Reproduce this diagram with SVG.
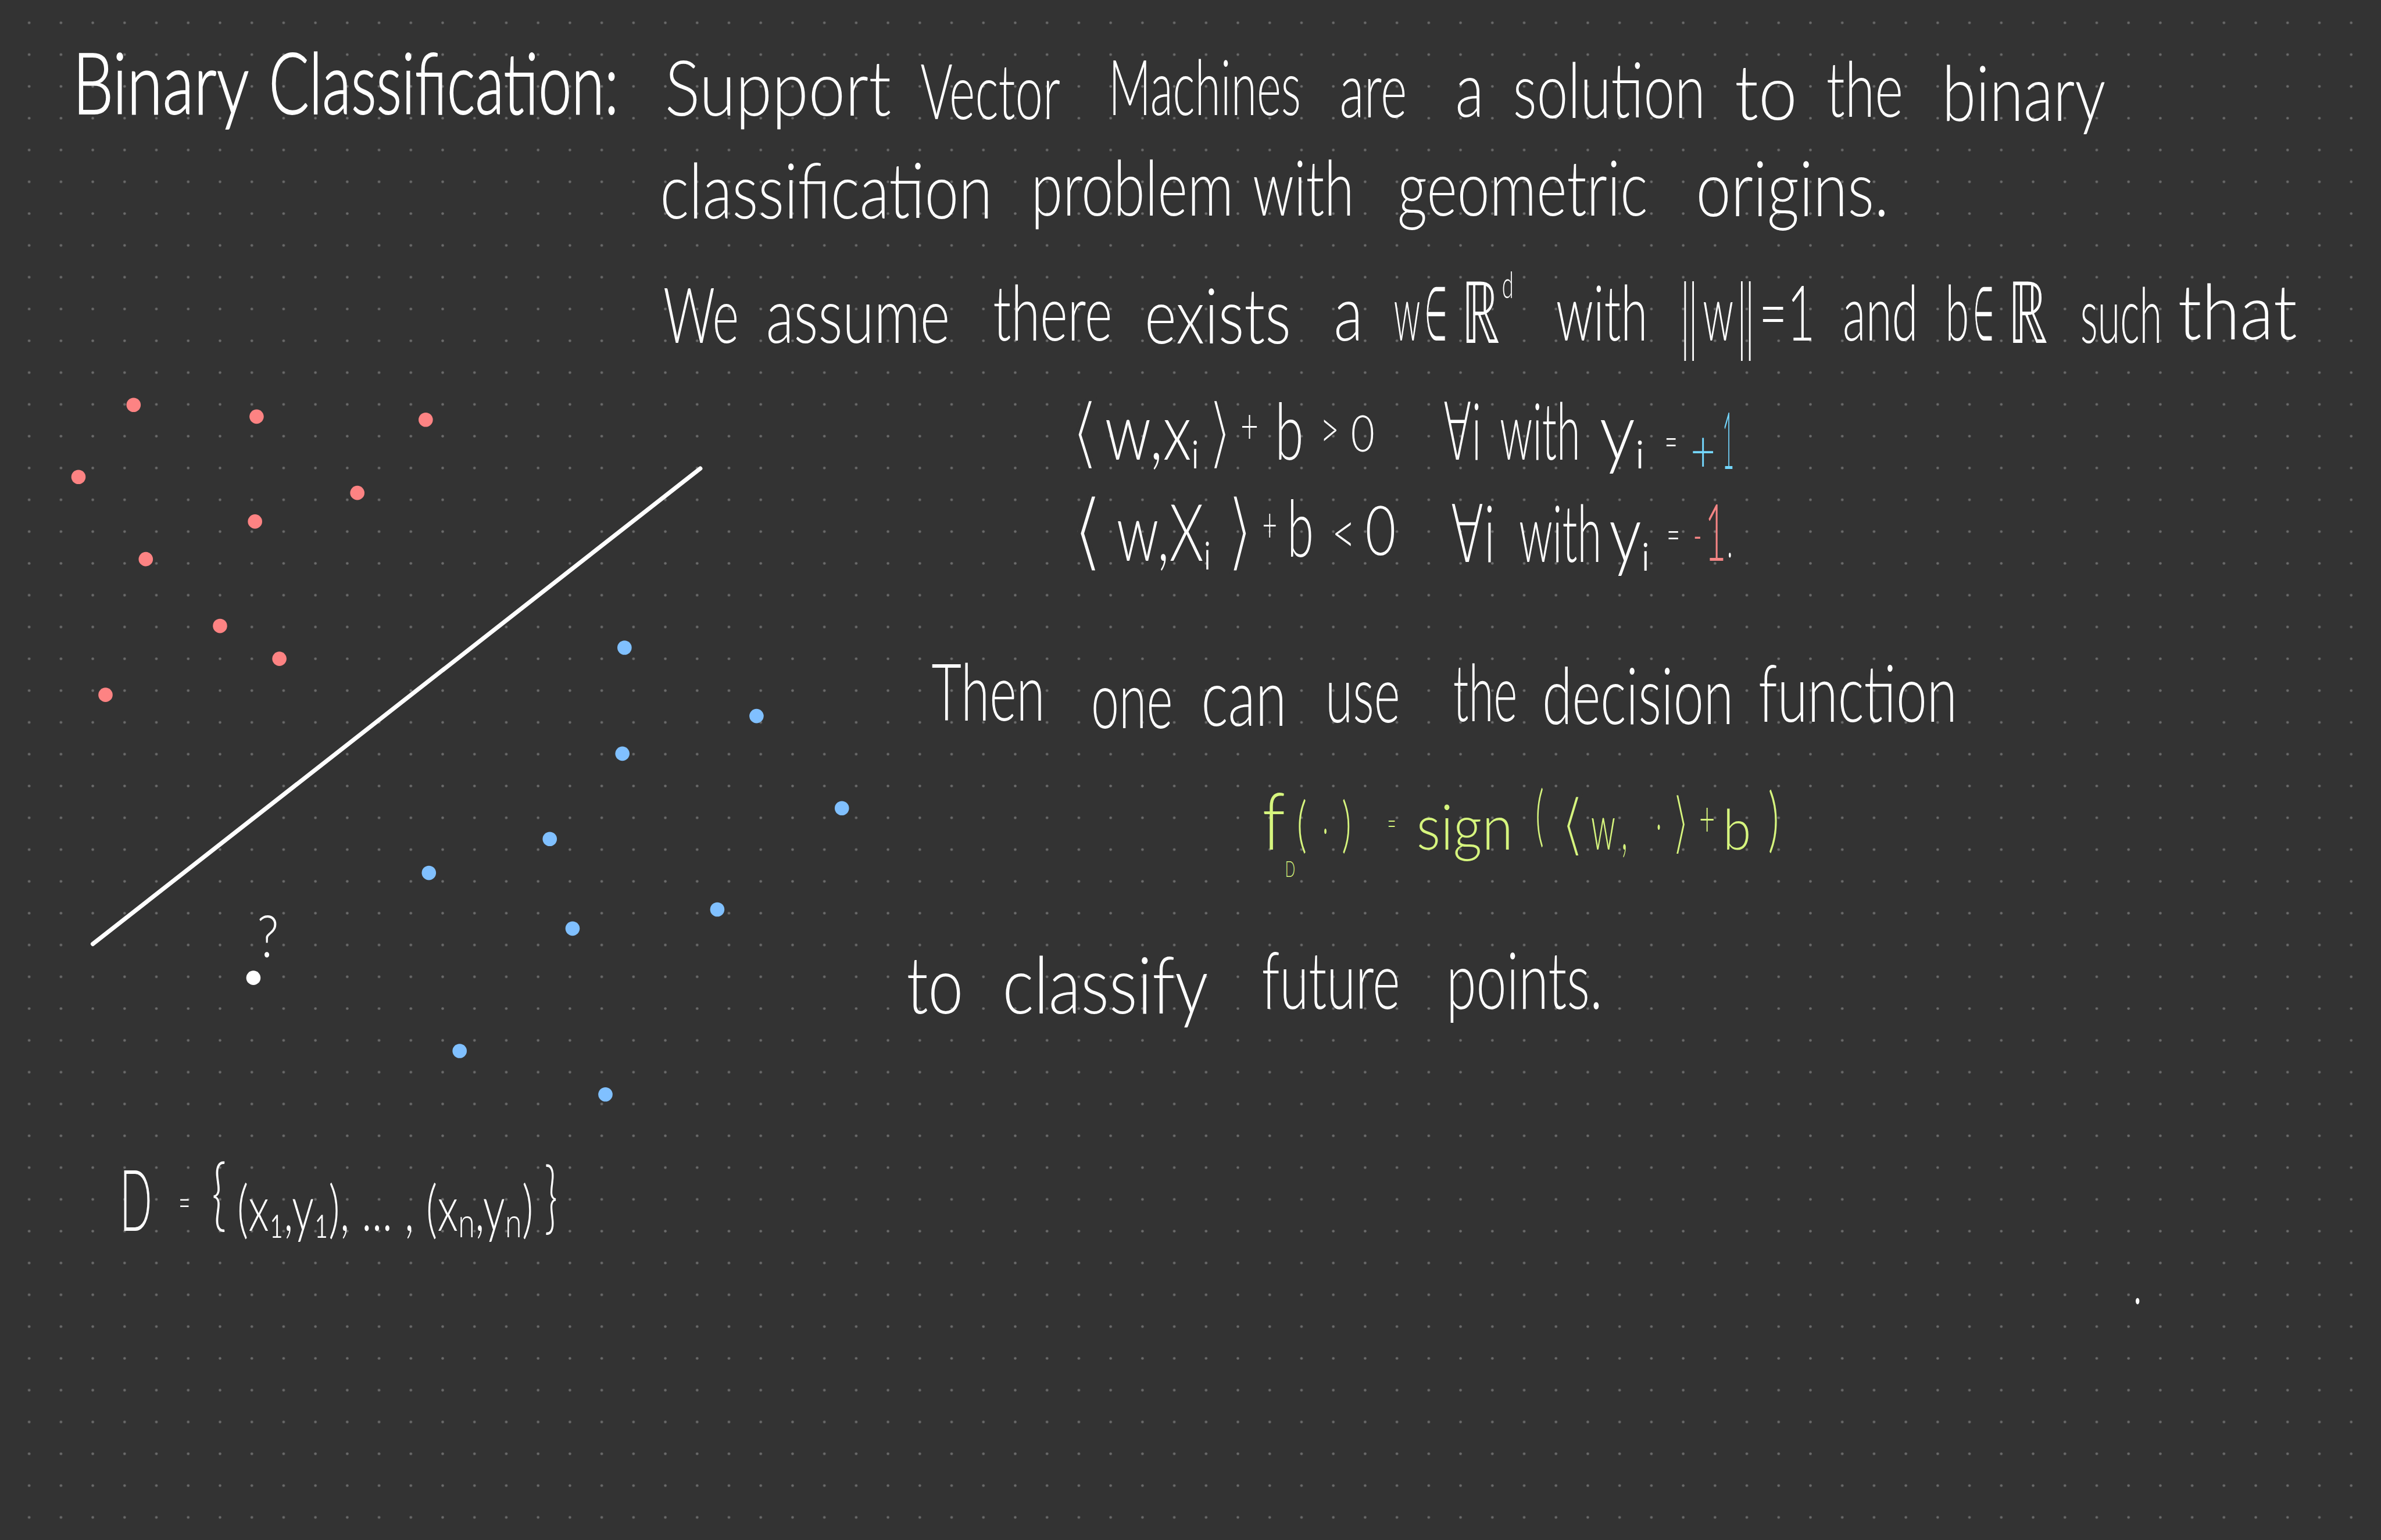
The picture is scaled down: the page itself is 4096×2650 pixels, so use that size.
<svg xmlns="http://www.w3.org/2000/svg" width="4096" height="2650" viewBox="0 0 4096 2650">
<defs>
<pattern id="grid" patternUnits="userSpaceOnUse" x="25" y="13" width="60" height="60">
<circle cx="30" cy="30" r="2.5" fill="#6b6b6b"/>
</pattern>
<style>
text { font-family: "Lato", "Open Sans", "DejaVu Sans", sans-serif; font-weight: 300; font-size: 145px; fill: #ffffff; }
.title { font-size: 160px; stroke: #ffffff; stroke-width: 2px; }
.m { font-size: 150px; }
.hv { stroke: #333333; stroke-width: 7px; }
.hs { stroke: #333333; stroke-width: 3px; }
.lime { fill: #d6f57e; }
.cyan { fill: #74d7ff; }
.red { fill: #f58585; }
.wh { fill: #ffffff; }
.rd { fill: #fd8383; }
.bl { fill: #80c0ff; }
</style>
</defs>
<rect x="0" y="0" width="4096" height="2650" fill="#333333"/>
<g transform="scale(0.912)">
<rect x="0" y="0" width="4500" height="2910" fill="url(#grid)"/>

<g id="title">
<text class="title"><tspan x="137" y="215" textLength="333" lengthAdjust="spacingAndGlyphs">Binary</tspan> <tspan x="507" y="215" textLength="660" lengthAdjust="spacingAndGlyphs">Classification:</tspan></text>
</g>

<g id="intro">
<text><tspan x="1254" y="218" textLength="427" lengthAdjust="spacingAndGlyphs">Support</tspan> <tspan x="1736" y="225" textLength="264" lengthAdjust="spacingAndGlyphs">Vector</tspan> <tspan x="2091" y="217" textLength="363" lengthAdjust="spacingAndGlyphs">Machines</tspan> <tspan x="2527" y="221" textLength="127" lengthAdjust="spacingAndGlyphs">are</tspan> <tspan x="2745" y="220" textLength="54" lengthAdjust="spacingAndGlyphs">a</tspan> <tspan x="2854" y="223" textLength="363" lengthAdjust="spacingAndGlyphs">solution</tspan> <tspan x="3272" y="226" textLength="118" lengthAdjust="spacingAndGlyphs">to</tspan> <tspan x="3445" y="220" textLength="145" lengthAdjust="spacingAndGlyphs">the</tspan> <tspan x="3663" y="228" textLength="309" lengthAdjust="spacingAndGlyphs">binary</tspan></text>
<text><tspan x="1245" y="412" textLength="627" lengthAdjust="spacingAndGlyphs">classification</tspan> <tspan x="1945" y="407" textLength="382" lengthAdjust="spacingAndGlyphs">problem</tspan> <tspan x="2363" y="407" textLength="191" lengthAdjust="spacingAndGlyphs">with</tspan> <tspan x="2636" y="407" textLength="472" lengthAdjust="spacingAndGlyphs">geometric</tspan> <tspan x="3199" y="408" textLength="364" lengthAdjust="spacingAndGlyphs">origins.</tspan></text>
</g>

<g id="assumption">
<text><tspan x="1251" y="647" textLength="143" lengthAdjust="spacingAndGlyphs">We</tspan> <tspan x="1445" y="647" textLength="347" lengthAdjust="spacingAndGlyphs">assume</tspan> <tspan x="1873" y="643" textLength="225" lengthAdjust="spacingAndGlyphs">there</tspan> <tspan x="2159" y="648" textLength="276" lengthAdjust="spacingAndGlyphs">exists</tspan> <tspan x="2516" y="643" textLength="55" lengthAdjust="spacingAndGlyphs">a</tspan> <tspan x="2629" y="643" textLength="50" lengthAdjust="spacingAndGlyphs">w</tspan><tspan class="hs" x="2686" y="643" textLength="44" lengthAdjust="spacingAndGlyphs">∈</tspan><tspan class="hs" x="2756" y="648" style="font-size:165px;stroke-width:2px" textLength="74" lengthAdjust="spacingAndGlyphs">ℝ</tspan><tspan x="2833" y="562" style="font-size:70px" textLength="22" lengthAdjust="spacingAndGlyphs">d</tspan> <tspan x="2935" y="643" textLength="173" lengthAdjust="spacingAndGlyphs">with</tspan> <tspan x="3169" y="652" style="font-size:160px" textLength="34" lengthAdjust="spacingAndGlyphs">‖</tspan><tspan x="3212" y="643" textLength="58" lengthAdjust="spacingAndGlyphs">w</tspan><tspan x="3276" y="652" style="font-size:160px" textLength="34" lengthAdjust="spacingAndGlyphs">‖</tspan><tspan x="3318" y="643" textLength="106" lengthAdjust="spacingAndGlyphs">=1</tspan> <tspan x="3476" y="643" textLength="142" lengthAdjust="spacingAndGlyphs">and</tspan> <tspan x="3669" y="643" textLength="45" lengthAdjust="spacingAndGlyphs">b</tspan><tspan class="hs" x="3722" y="643" textLength="40" lengthAdjust="spacingAndGlyphs">∈</tspan><tspan class="hs" x="3786" y="648" style="font-size:165px;stroke-width:2px" textLength="77" lengthAdjust="spacingAndGlyphs">ℝ</tspan> <tspan x="3924" y="647" textLength="154" lengthAdjust="spacingAndGlyphs">such</tspan> <tspan x="4108" y="640" textLength="225" lengthAdjust="spacingAndGlyphs">that</tspan></text>
</g>

<g id="eq-positive">
<text class="m"><tspan class="hv" x="2017" y="867" textLength="58" lengthAdjust="spacingAndGlyphs">⟨</tspan><tspan x="2084" y="867" textLength="178" lengthAdjust="spacingAndGlyphs">w,xᵢ</tspan><tspan class="hv" x="2276" y="867" textLength="49" lengthAdjust="spacingAndGlyphs">⟩</tspan><tspan x="2340" y="835" style="font-size:90px" textLength="34" lengthAdjust="spacingAndGlyphs">+</tspan><tspan x="2405" y="867" textLength="54" lengthAdjust="spacingAndGlyphs">b</tspan><tspan x="2490" y="845" style="font-size:100px" textLength="36" lengthAdjust="spacingAndGlyphs">&gt;</tspan><tspan x="2548" y="852" style="font-size:95px" textLength="45" lengthAdjust="spacingAndGlyphs">0</tspan> <tspan x="2722" y="867" textLength="72" lengthAdjust="spacingAndGlyphs">∀i</tspan> <tspan x="2829" y="867" textLength="152" lengthAdjust="spacingAndGlyphs">with</tspan> <tspan x="3017" y="867" textLength="85" lengthAdjust="spacingAndGlyphs">yᵢ</tspan><tspan x="3140" y="862" style="font-size:80px" textLength="24" lengthAdjust="spacingAndGlyphs">=</tspan><tspan class="cyan" x="3189" y="890" style="font-size:110px" textLength="47" lengthAdjust="spacingAndGlyphs">+</tspan><tspan class="cyan" x="3249" y="885" textLength="22" lengthAdjust="spacingAndGlyphs">1</tspan></text>
</g>

<g id="eq-negative">
<text class="m"><tspan class="hv" x="2021" y="1058" style="font-size:165px" textLength="63" lengthAdjust="spacingAndGlyphs">⟨</tspan><tspan x="2106" y="1058" textLength="178" lengthAdjust="spacingAndGlyphs">w,Xᵢ</tspan><tspan class="hv" x="2312" y="1058" style="font-size:165px" textLength="53" lengthAdjust="spacingAndGlyphs">⟩</tspan><tspan x="2381" y="1022" style="font-size:90px" textLength="28" lengthAdjust="spacingAndGlyphs">+</tspan><tspan x="2428" y="1050" textLength="50" lengthAdjust="spacingAndGlyphs">b</tspan><tspan x="2512" y="1045" style="font-size:110px" textLength="45" lengthAdjust="spacingAndGlyphs">&lt;</tspan><tspan x="2575" y="1047" style="font-size:130px" textLength="58" lengthAdjust="spacingAndGlyphs">0</tspan> <tspan x="2736" y="1060" textLength="84" lengthAdjust="spacingAndGlyphs">∀i</tspan> <tspan x="2865" y="1060" textLength="156" lengthAdjust="spacingAndGlyphs">with</tspan> <tspan x="3035" y="1060" textLength="77" lengthAdjust="spacingAndGlyphs">yᵢ</tspan><tspan x="3144" y="1037" style="font-size:80px" textLength="25" lengthAdjust="spacingAndGlyphs">=</tspan><tspan class="red" x="3194" y="1042" style="font-size:90px" textLength="16" lengthAdjust="spacingAndGlyphs">-</tspan><tspan class="red" x="3216" y="1058" textLength="40" lengthAdjust="spacingAndGlyphs">1</tspan><tspan class="wh" x="3258" y="1052" style="font-size:100px" textLength="10" lengthAdjust="spacingAndGlyphs">.</tspan></text>
</g>

<g id="decision">
<text style="font-size:150px"><tspan x="1757" y="1360" textLength="214" lengthAdjust="spacingAndGlyphs">Then</tspan> <tspan x="2058" y="1374" textLength="154" lengthAdjust="spacingAndGlyphs">one</tspan> <tspan x="2266" y="1370" textLength="161" lengthAdjust="spacingAndGlyphs">can</tspan> <tspan x="2500" y="1363" textLength="141" lengthAdjust="spacingAndGlyphs">use</tspan> <tspan x="2741" y="1361" textLength="121" lengthAdjust="spacingAndGlyphs">the</tspan> <tspan x="2909" y="1366" textLength="361" lengthAdjust="spacingAndGlyphs">decision</tspan> <tspan x="3317" y="1362" textLength="375" lengthAdjust="spacingAndGlyphs">function</tspan></text>
</g>

<g id="formula">
<text class="lime m"><tspan x="2381" y="1603" textLength="43" lengthAdjust="spacingAndGlyphs">f</tspan><tspan x="2424" y="1655" style="font-size:42px" textLength="19" lengthAdjust="spacingAndGlyphs">D</tspan><tspan x="2446" y="1595" style="font-size:115px" textLength="19" lengthAdjust="spacingAndGlyphs">(</tspan><tspan x="2495" y="1598" style="font-size:100px" textLength="10" lengthAdjust="spacingAndGlyphs">·</tspan><tspan x="2531" y="1595" style="font-size:115px" textLength="18" lengthAdjust="spacingAndGlyphs">)</tspan> <tspan x="2617" y="1575" style="font-size:60px" textLength="16" lengthAdjust="spacingAndGlyphs">=</tspan> <tspan x="2672" y="1603" style="font-size:120px" textLength="182" lengthAdjust="spacingAndGlyphs">sign</tspan><tspan x="2896" y="1582" style="font-size:125px" textLength="16" lengthAdjust="spacingAndGlyphs">(</tspan><tspan class="hv" x="2942" y="1600" style="font-size:130px;stroke-width:6px" textLength="49" lengthAdjust="spacingAndGlyphs">⟨</tspan><tspan x="3001" y="1603" style="font-size:120px" textLength="46" lengthAdjust="spacingAndGlyphs">w</tspan><tspan x="3058" y="1603" style="font-size:120px" textLength="12" lengthAdjust="spacingAndGlyphs">,</tspan><tspan x="3124" y="1590" style="font-size:100px" textLength="10" lengthAdjust="spacingAndGlyphs">·</tspan><tspan class="hv" x="3152" y="1597" style="font-size:130px;stroke-width:6px" textLength="35" lengthAdjust="spacingAndGlyphs">⟩</tspan><tspan x="3205" y="1577" style="font-size:90px" textLength="30" lengthAdjust="spacingAndGlyphs">+</tspan><tspan x="3250" y="1603" style="font-size:105px" textLength="53" lengthAdjust="spacingAndGlyphs">b</tspan><tspan x="3335" y="1592" style="font-size:135px" textLength="21" lengthAdjust="spacingAndGlyphs">)</tspan></text>
</g>

<g id="classify">
<text style="font-size:150px"><tspan x="1710" y="1912" textLength="107" lengthAdjust="spacingAndGlyphs">to</tspan> <tspan x="1891" y="1912" textLength="388" lengthAdjust="spacingAndGlyphs">classify</tspan> <tspan x="2380" y="1904" textLength="261" lengthAdjust="spacingAndGlyphs">future</tspan> <tspan x="2728" y="1904" textLength="295" lengthAdjust="spacingAndGlyphs">points.</tspan></text>
</g>

<g id="dataset">
<text style="font-size:120px"><tspan x="226" y="2322" style="font-size:160px" textLength="61" lengthAdjust="spacingAndGlyphs">D</tspan> <tspan x="337" y="2296" style="font-size:75px" textLength="22" lengthAdjust="spacingAndGlyphs">=</tspan> <tspan x="399" y="2305" style="font-size:150px" textLength="28" lengthAdjust="spacingAndGlyphs">{</tspan><tspan x="447" y="2322" textLength="559" lengthAdjust="spacingAndGlyphs">(x₁,y₁), ... , (xₙ,yₙ)</tspan><tspan x="1027" y="2310" style="font-size:150px" textLength="25" lengthAdjust="spacingAndGlyphs">}</tspan></text>
</g>

<g id="separator">
<line x1="175" y1="1781" x2="1321" y2="884" stroke="#ffffff" stroke-width="8" stroke-linecap="round"/>
</g>

<g id="class-positive">
<circle class="rd" cx="252" cy="764" r="13.5"/>
<circle class="rd" cx="484" cy="786" r="13.5"/>
<circle class="rd" cx="803" cy="792" r="13.5"/>
<circle class="rd" cx="148" cy="900" r="13.5"/>
<circle class="rd" cx="674" cy="930" r="13.5"/>
<circle class="rd" cx="481" cy="984" r="13.5"/>
<circle class="rd" cx="275" cy="1055" r="13.5"/>
<circle class="rd" cx="415" cy="1181" r="13.5"/>
<circle class="rd" cx="527" cy="1243" r="13.5"/>
<circle class="rd" cx="199" cy="1311" r="13.5"/>
</g>

<g id="class-negative">
<circle class="bl" cx="1178" cy="1222" r="13.5"/>
<circle class="bl" cx="1427" cy="1351" r="13.5"/>
<circle class="bl" cx="1174" cy="1422" r="13.5"/>
<circle class="bl" cx="1588" cy="1525" r="13.5"/>
<circle class="bl" cx="1037" cy="1583" r="13.5"/>
<circle class="bl" cx="809" cy="1647" r="13.5"/>
<circle class="bl" cx="1353" cy="1716" r="13.5"/>
<circle class="bl" cx="1080" cy="1752" r="13.5"/>
<circle class="bl" cx="867" cy="1983" r="13.5"/>
<circle class="bl" cx="1142" cy="2065" r="13.5"/>
</g>

<g id="unknown-point">
<text x="485" y="1806" style="font-size:110px" textLength="41" lengthAdjust="spacingAndGlyphs">?</text>
<circle cx="478" cy="1845" r="13.5" fill="#ffffff"/>
</g>

<ellipse cx="4032" cy="2455" rx="3.5" ry="6" fill="#ffffff"/>
</g>
</svg>
